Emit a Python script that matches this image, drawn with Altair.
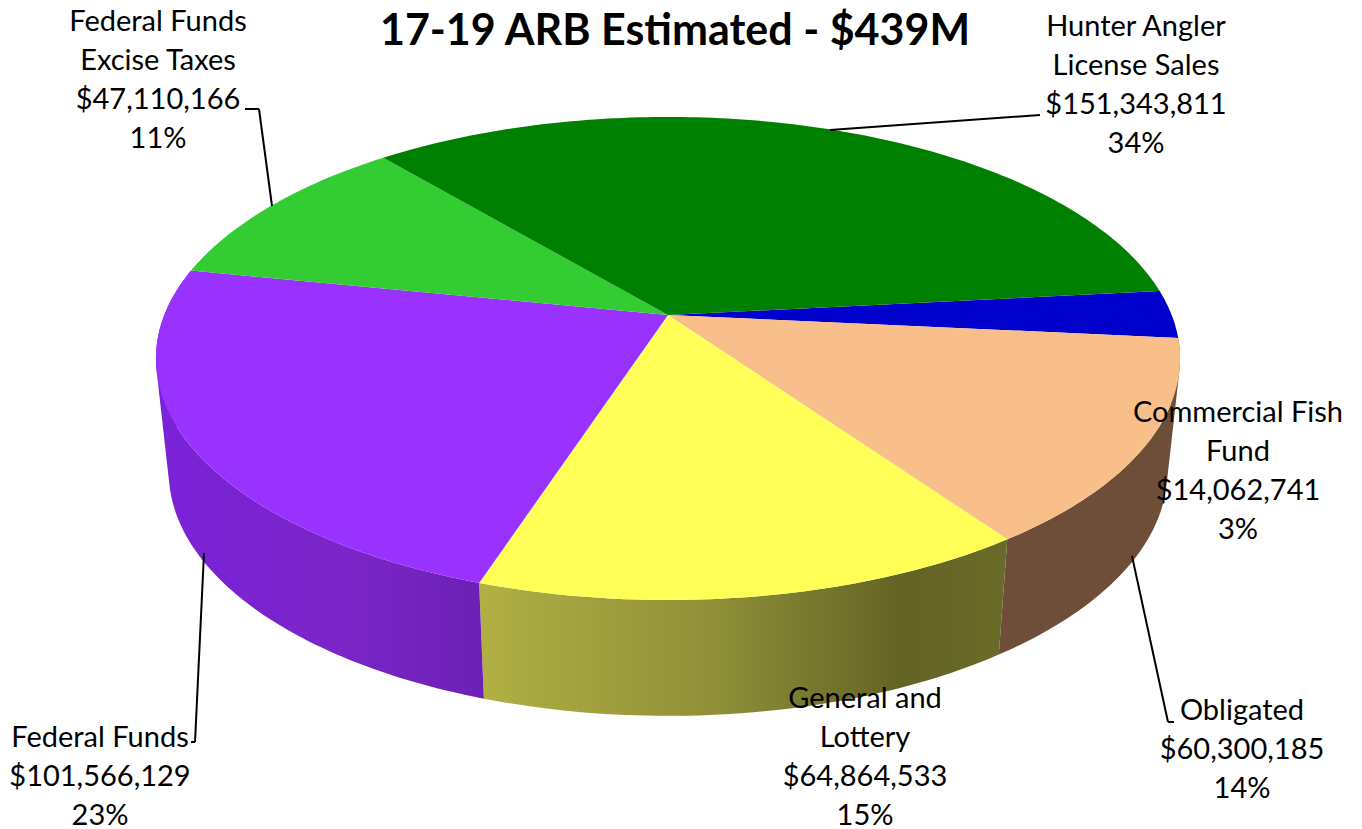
import math
import altair as alt

# ---- chart values ----
categories = ["Hunter Angler License Sales", "Commercial Fish Fund", "Obligated",
              "General and Lottery", "Federal Funds", "Federal Funds Excise Taxes"]
values = [151343811, 14062741, 60300185, 64864533, 101566129, 47110166]
shares = ["34%", "3%", "14%", "15%", "23%", "11%"]
face_colors = ["#008000", "#0000cc", "#f9bf8b", "#ffff57", "#9932ff", "#33cc33"]
title_text = "17-19 ARB Estimated - $439M"

# ---- perspective view of the disc (page pixels minus 8 px margin) ----
M = 8
CX, CY = 668 - M, 315 - M
K, A, B = 0.18, 233.7, 503.7
BASE_DY, BASE_SY, BASE_SX = 113, 1.01, 0.975

total = sum(values)
order = [1, 2, 3, 4, 5, 0]  # clockwise from the right-hand side


def proj(deg, base=False):
    t = math.radians(deg)
    u, v = math.cos(t), math.sin(t)
    w = 1 - K * v
    x, y = B * u / w, A * v / w
    if base:
        return [CX + BASE_SX * x, CY + BASE_DY + BASE_SY * y]
    return [CX + x, CY + y]


def arc(a0, a1, base=False):
    n = max(2, int(abs(a1 - a0) / 1.0))
    return [proj(a0 + (a1 - a0) * i / n, base) for i in range(n + 1)]


def area(r):
    return sum(r[i][0] * r[(i + 1) % len(r)][1] - r[(i + 1) % len(r)][0] * r[i][1] for i in range(len(r)))


def wedge(a0, a1):
    ring = [[CX, CY]] + arc(a0, a1) + [[CX, CY]]
    return {"type": "Feature", "properties": {}, "geometry": {"type": "Polygon", "coordinates": [ring]}}


def wall(a0, a1):
    tops, bots = arc(a0, a1), arc(a0, a1, True)
    polys = []
    for i in range(len(tops) - 1):
        r = [tops[i], tops[i + 1], bots[i + 1], bots[i]]
        if area(r) < 0:
            r = r[::-1]
        polys.append([r + [r[0]]])
    return {"type": "Feature", "properties": {}, "geometry": {"type": "MultiPolygon", "coordinates": polys}}


spans = {}
a = -6.0
for i in order:
    d = values[i] / total * 360
    spans[i] = (a, a + d)
    a += d


def hgrad(stops):
    return alt.LinearGradient(gradient="linear", x1=0, x2=1, y1=0, y2=0,
                              stops=[alt.GradientStop(color=c, offset=o) for o, c in stops])


def shape(feature, fill):
    return alt.Chart(alt.Data(values=[feature])).mark_geoshape(fill=fill, strokeWidth=0)


layers = [
    shape(wall(*spans[2]), "#6e4e38"),
    shape(wall(*spans[3]), hgrad([(0, "#b0b044"), (0.45, "#8f8f38"), (0.8, "#636424"), (1, "#6a6b28")])),
    shape(wall(*spans[4]), hgrad([(0, "#7a22d8"), (0.6, "#7a25c8"), (1, "#6c20b4")])),
]
for i in order:
    layers.append(shape(wedge(*spans[i]), face_colors[i]))


def leader(x0, y0, x1, y1):
    return alt.Chart(alt.Data(values=[{"k": 1}])).mark_rule(color="black", strokeWidth=2).encode(
        x=alt.value(x0 - M), x2=alt.value(x1 - M), y=alt.value(y0 - M), y2=alt.value(y1 - M))


layers += [
    leader(245, 109, 259, 109), leader(259, 109, 272, 206),
    leader(1040, 115, 830, 130),
    leader(1132, 556, 1168, 722), leader(1168, 722, 1174, 722),
    leader(204, 553, 195, 742), leader(195, 742, 191, 742),
]


def money(i):
    return "${:,}".format(values[i])


def label(lines, x, y, size=29, bold=False):
    return alt.Chart(alt.Data(values=[{"t": "\n".join(lines)}])).mark_text(
        font="Lato", fontSize=size, fontWeight="bold" if bold else "normal", color="black",
        align="center", baseline="middle", lineBreak="\n", lineHeight=39
    ).encode(text="t:N", x=alt.value(x - M), y=alt.value(y - M))


# y is the middle of each label's first line
layers += [
    label(["Federal Funds", "Excise Taxes", money(5), shares[5]], 158, 22),
    label(["Hunter Angler", "License Sales", money(0), shares[0]], 1136, 27),
    label(["Commercial Fish", "Fund", money(1), shares[1]], 1238, 413),
    label(["Obligated", money(2), shares[2]], 1242, 711),
    label(["General and", "Lottery", money(3), shares[3]], 865, 699),
    label(["Federal Funds", money(4), shares[4]], 100, 738),
    label([title_text], 675, 32, size=43, bold=True),
]

chart = (
    alt.layer(*layers)
    .project(type="identity", scale=1, translate=[0, 0])
    .properties(width=1346, height=821, padding=0, autosize="none", background="white")
    .configure_view(stroke=None)
)
chart.save("out.html", embed_options={"renderer": "svg", "actions": False})
